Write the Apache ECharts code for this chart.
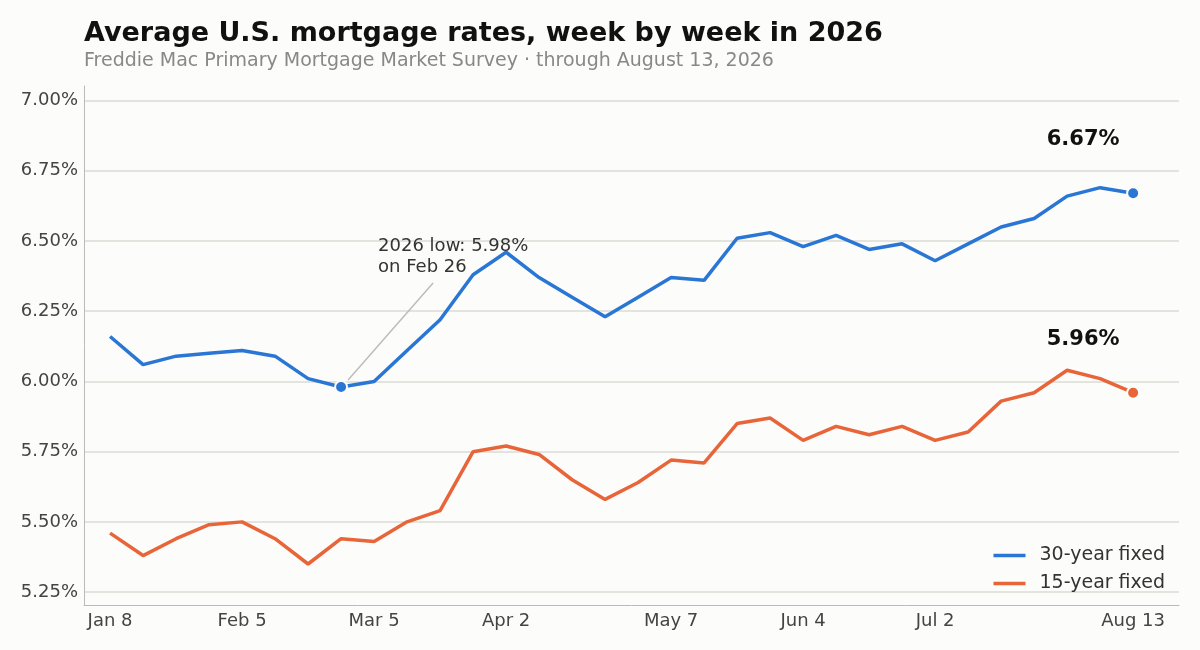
<!DOCTYPE html>
<html>
<head>
<meta charset="utf-8">
<script src="https://cdn.jsdelivr.net/npm/echarts@6/dist/echarts.min.js"></script>
<style>
  html, body { margin: 0; padding: 0; background: #fcfcfa; }
  #chart { width: 1200px; height: 650px; }
</style>
</head>
<body>
<div id="chart"></div>
<script>
// weekly survey dates (Thursdays)
const weeks = [
    'Jan 8', 'Jan 15', 'Jan 22', 'Jan 29',
    'Feb 5', 'Feb 12', 'Feb 19', 'Feb 26',
    'Mar 5', 'Mar 12', 'Mar 19', 'Mar 26',
    'Apr 2', 'Apr 9', 'Apr 16', 'Apr 23', 'Apr 30',
    'May 7', 'May 14', 'May 21', 'May 28',
    'Jun 4', 'Jun 11', 'Jun 18', 'Jun 25',
    'Jul 2', 'Jul 9', 'Jul 16', 'Jul 23', 'Jul 30',
    'Aug 6', 'Aug 13'
];

const rate30 = [
    6.16, 6.06, 6.09, 6.10,
    6.11, 6.09, 6.01, 5.98,
    6.00, 6.11, 6.22, 6.38,
    6.46, 6.37, 6.30, 6.23, 6.30,
    6.37, 6.36, 6.51, 6.53,
    6.48, 6.52, 6.47, 6.49,
    6.43, 6.49, 6.55, 6.58, 6.66,
    6.69, 6.67
];

const rate15 = [
    5.46, 5.38, 5.44, 5.49,
    5.50, 5.44, 5.35, 5.44,
    5.43, 5.50, 5.54, 5.75,
    5.77, 5.74, 5.65, 5.58, 5.64,
    5.72, 5.71, 5.85, 5.87,
    5.79, 5.84, 5.81, 5.84,
    5.79, 5.82, 5.93, 5.96, 6.04,
    6.01, 5.96
];

const xTickLabels = ['Jan 8', 'Feb 5', 'Mar 5', 'Apr 2', 'May 7', 'Jun 4', 'Jul 2', 'Aug 13'];
const yTicks = [5.25, 5.50, 5.75, 6.00, 6.25, 6.50, 6.75, 7.00];

const BLUE = '#2a76d4';
const ORANGE = '#e8653a';
const FONT = 'DejaVu Sans';

const xTicks = xTickLabels.map(l => weeks.indexOf(l));
const lastIdx = weeks.length - 1;
const lowVal = Math.min(...rate30);
const lowIdx = rate30.indexOf(lowVal);

function buildData(values, color, highlight) {
    return values.map((v, i) => {
        const item = { value: [i, v] };
        if (highlight.includes(i)) {
            item.symbol = 'circle';
            item.symbolSize = 12;
            item.itemStyle = { color: color, borderColor: '#fcfcfa', borderWidth: 2 };
        }
        if (i === lastIdx) {
            item.label = {
                show: true,
                position: 'top',
                offset: [-50, -31],
                formatter: v.toFixed(2) + '%',
                fontFamily: FONT,
                fontSize: 21,
                fontWeight: 'bold',
                color: '#111'
            };
        }
        return item;
    });
}

const chart = echarts.init(document.getElementById('chart'));

const option = {
    backgroundColor: '#fcfcfa',
    animation: false,
    title: {
        text: 'Average U.S. mortgage rates, week by week in 2026',
        subtext: 'Freddie Mac Primary Mortgage Market Survey · through August 13, 2026',
        left: 84,
        top: 20,
        padding: 0,
        itemGap: 5,
        textStyle: { fontFamily: FONT, fontSize: 27, fontWeight: 'bold', color: '#111' },
        subtextStyle: { fontFamily: FONT, fontSize: 19, color: '#888' }
    },
    legend: {
        orient: 'vertical',
        right: 35,
        bottom: 57,
        padding: 0,
        icon: 'rect',
        itemWidth: 32,
        itemHeight: 3.5,
        itemGap: 9,
        textStyle: { fontFamily: FONT, fontSize: 19, color: '#333', padding: [0, 0, 0, 9] },
        data: ['30-year fixed', '15-year fixed']
    },
    grid: { left: 84, right: 21, top: 86, bottom: 45 },
    xAxis: {
        type: 'value',
        min: -0.79,
        max: 32.39,
        axisLine: { show: true, onZero: false, lineStyle: { color: '#bbbbb5', width: 1 } },
        axisTick: { show: false, customValues: xTicks },
        splitLine: { show: false },
        axisLabel: {
            customValues: xTicks,
            margin: 7,
            fontFamily: FONT,
            fontSize: 18,
            color: '#444',
            formatter: v => weeks[Math.round(v)]
        }
    },
    yAxis: {
        type: 'value',
        min: 5.204,
        max: 7.052,
        axisLine: { show: true, onZero: false, lineStyle: { color: '#bbbbb5', width: 1 } },
        axisTick: { show: false, customValues: yTicks },
        splitLine: { show: true, lineStyle: { color: '#dcdcd6', width: 1.5 } },
        axisLabel: {
            customValues: yTicks,
            margin: 6,
            fontFamily: FONT,
            fontSize: 18,
            color: '#444',
            formatter: v => v.toFixed(2) + '%'
        }
    },
    series: [
        {
            name: '30-year fixed',
            type: 'line',
            symbol: 'none',
            showAllSymbol: true,
            color: BLUE,
            lineStyle: { color: BLUE, width: 3.5 },
            data: buildData(rate30, BLUE, [lowIdx, lastIdx]),
            z: 3
        },
        {
            name: '15-year fixed',
            type: 'line',
            symbol: 'none',
            showAllSymbol: true,
            color: ORANGE,
            lineStyle: { color: ORANGE, width: 3.5 },
            data: buildData(rate15, ORANGE, [lastIdx]),
            z: 3
        }
    ]
};

chart.setOption(option);

// annotation for the year's low, placed relative to the low point
const p = chart.convertToPixel({ gridIndex: 0 }, [lowIdx, lowVal]);
chart.setOption({
    graphic: [
        {
            type: 'line',
            shape: { x1: p[0] + 7, y1: p[1] - 7, x2: p[0] + 92, y2: p[1] - 104 },
            style: { stroke: '#bdbdb8', lineWidth: 1.5 },
            z: 2
        },
        {
            type: 'text',
            x: p[0] + 37,
            y: p[1] - 151,
            style: {
                text: '2026 low: ' + lowVal.toFixed(2) + '%\non ' + weeks[lowIdx],
                font: '18px "DejaVu Sans"',
                fill: '#333',
                lineHeight: 21,
                textVerticalAlign: 'top'
            },
            z: 4
        }
    ]
});
</script>
</body>
</html>
